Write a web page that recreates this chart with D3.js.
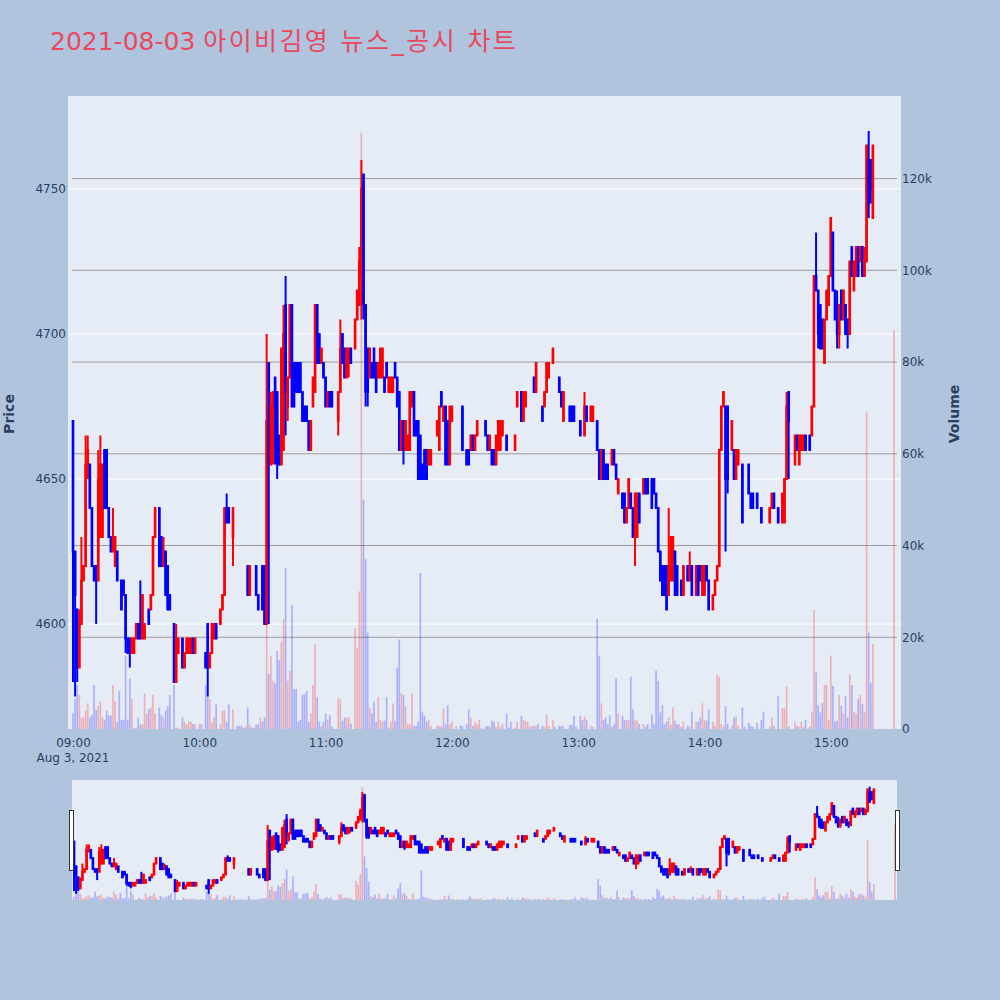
<!DOCTYPE html>
<html>
<head>
<meta charset="utf-8">
<title>아이비김영 뉴스_공시 차트</title>
<script src="https://cdn.jsdelivr.net/npm/d3@7"></script>
<style>
  body { margin: 0; background: #b0c4de; }
  text { font-family: "DejaVu Sans", "Noto Sans CJK KR", sans-serif; }
</style>
</head>
<body>
<svg id="chart" width="1000" height="1000"></svg>
<script>
// minute of the session, 0 = 09:00
const minutes = [
  0,1,2,3,4,5,6,7,8,9,
  10,11,12,13,14,15,16,17,18,19,
  20,21,22,23,24,25,26,27,28,29,
  30,31,32,33,34,35,36,37,38,39,
  41,42,43,44,45,46,48,49,50,52,
  53,54,55,56,57,58,60,61,63,64,
  65,66,67,68,70,71,72,73,74,76,
  78,79,80,81,82,83,84,85,86,87,
  88,89,90,91,92,93,94,95,96,97,
  98,99,100,101,102,103,104,105,106,107,
  108,109,110,111,112,113,114,115,116,117,
  118,119,120,121,122,123,126,127,128,129,
  130,131,132,134,135,136,137,138,139,140,
  141,142,143,144,145,146,147,148,149,150,
  151,152,153,154,155,156,157,158,159,160,
  161,162,163,164,165,166,167,168,169,170,
  173,174,175,176,177,178,179,180,182,184,
  185,187,188,189,190,191,192,193,194,196,
  197,198,199,200,201,202,203,204,206,207,
  208,210,211,213,214,215,216,217,218,219,
  220,221,223,224,225,226,228,229,231,232,
  233,236,237,238,239,241,242,243,244,246,
  247,249,250,251,252,253,254,255,256,257,
  258,259,261,262,263,264,265,266,267,268,
  269,271,272,273,275,276,277,278,279,280,
  281,282,283,284,285,286,287,288,289,290,
  292,293,294,296,297,298,299,300,301,302,
  304,305,306,307,308,309,310,311,313,314,
  315,316,318,319,321,322,323,325,327,328,
  331,332,333,335,337,338,339,340,343,344,
  345,346,347,348,350,351,352,353,354,355,
  356,357,358,359,360,361,362,363,364,365,
  366,367,368,369,370,371,372,373,374,375,
  376,377,378,379,380,390
];
const opens = [
  4670,4625,4605,4585,4600,4615,4620,4655,4655,4640,
  4620,4620,4615,4630,4630,4660,4660,4640,4630,4625,
  4620,4625,4615,4615,4615,4610,4595,4595,4590,4590,
  4595,4600,4600,4595,4595,4605,4605,4605,4610,4630,
  4640,4630,4620,4625,4620,4610,4600,4580,4590,4595,
  4585,4590,4590,4590,4595,4590,4595,4590,4590,4600,
  4585,4590,4595,4600,4600,4605,4610,4640,4640,4630,
  4625,4625,4625,4620,4625,4620,4610,4610,4610,4620,
  4610,4620,4620,4620,4600,4690,4655,4660,4685,4680,
  4665,4655,4660,4710,4675,4685,4710,4690,4690,4690,
  4690,4680,4675,4675,4670,4660,4675,4680,4710,4700,
  4690,4690,4685,4675,4680,4680,4670,4680,4700,4695,
  4685,4690,4695,4695,4705,4710,4720,4755,4710,4695,
  4685,4690,4695,4690,4685,4685,4685,4685,4690,4680,
  4680,4680,4690,4685,4680,4660,4670,4660,4660,4660,
  4675,4680,4670,4670,4665,4655,4660,4660,4655,4655,
  4665,4660,4680,4670,4675,4670,4655,4670,4675,4670,
  4675,4660,4660,4660,4665,4660,4665,4670,4670,4670,
  4665,4660,4660,4660,4655,4660,4660,4665,4665,4660,
  4660,4660,4675,4680,4670,4675,4685,4685,4685,4685,
  4680,4680,4675,4675,4680,4685,4690,4690,4685,4680,
  4670,4675,4675,4675,4670,4670,4665,4665,4675,4670,
  4670,4670,4660,4650,4660,4655,4655,4650,4655,4660,
  4655,4645,4645,4645,4635,4640,4645,4640,4630,4630,
  4645,4645,4650,4650,4650,4650,4645,4640,4625,4620,
  4620,4620,4610,4615,4615,4625,4620,4620,4615,4610,
  4620,4615,4620,4610,4620,4620,4610,4610,4620,4615,
  4605,4610,4615,4620,4660,4675,4675,4675,4660,4660,
  4650,4655,4655,4635,4655,4645,4645,4645,4640,4635,
  4635,4640,4645,4640,4635,4635,4650,4680,4655,4665,
  4655,4660,4660,4665,4665,4665,4675,4720,4715,4710,
  4705,4690,4705,4710,4720,4735,4715,4710,4700,4715,
  4705,4710,4705,4700,4730,4715,4720,4730,4725,4730,
  4720,4725,4760,4760,4740,4770
];
const highs = [
  4670,4625,4605,4605,4630,4620,4665,4665,4655,4640,
  4620,4620,4660,4665,4655,4660,4660,4640,4630,4640,
  4630,4625,4615,4615,4615,4610,4595,4595,4595,4595,
  4600,4600,4615,4610,4600,4605,4605,4610,4630,4640,
  4640,4630,4630,4625,4620,4610,4600,4600,4595,4595,
  4590,4595,4595,4595,4595,4595,4595,4590,4590,4600,
  4590,4600,4600,4600,4605,4610,4640,4645,4640,4640,
  4625,4625,4625,4620,4625,4620,4620,4610,4610,4620,
  4610,4620,4620,4620,4700,4690,4680,4680,4685,4680,
  4665,4695,4710,4720,4685,4710,4710,4690,4690,4690,
  4690,4680,4675,4675,4670,4670,4685,4710,4710,4700,
  4695,4690,4685,4680,4680,4680,4680,4705,4700,4695,
  4695,4695,4695,4705,4715,4730,4760,4755,4710,4695,
  4695,4690,4695,4690,4690,4695,4695,4685,4690,4685,
  4685,4685,4690,4685,4680,4670,4670,4670,4665,4680,
  4680,4680,4670,4670,4665,4655,4660,4660,4660,4660,
  4670,4675,4680,4675,4675,4670,4675,4675,4675,4670,
  4675,4660,4660,4665,4665,4665,4670,4670,4670,4670,
  4665,4665,4660,4660,4665,4670,4670,4670,4665,4660,
  4660,4665,4680,4680,4680,4680,4685,4685,4685,4685,
  4690,4680,4675,4680,4690,4690,4695,4690,4685,4680,
  4680,4675,4675,4675,4670,4670,4665,4680,4675,4675,
  4675,4670,4660,4660,4660,4655,4655,4650,4660,4660,
  4655,4650,4645,4645,4640,4650,4645,4640,4645,4645,
  4645,4650,4650,4650,4650,4650,4645,4640,4625,4620,
  4620,4620,4640,4630,4630,4625,4620,4620,4615,4620,
  4620,4625,4620,4620,4620,4620,4620,4620,4620,4615,
  4610,4615,4620,4660,4675,4680,4675,4675,4670,4660,
  4660,4660,4655,4635,4655,4645,4645,4645,4640,4635,
  4640,4645,4645,4640,4645,4650,4680,4680,4665,4665,
  4665,4665,4665,4665,4665,4675,4720,4735,4715,4710,
  4705,4705,4715,4720,4740,4735,4715,4715,4710,4715,
  4715,4710,4705,4725,4730,4725,4730,4730,4730,4730,
  4730,4765,4770,4760,4765,4770
];
const lows = [
  4580,4575,4580,4585,4600,4615,4620,4650,4640,4620,
  4615,4600,4615,4630,4630,4640,4640,4630,4625,4625,
  4620,4615,4615,4605,4610,4590,4590,4585,4590,4590,
  4595,4595,4595,4595,4595,4605,4600,4605,4610,4630,
  4620,4620,4620,4610,4605,4605,4580,4580,4590,4585,
  4585,4590,4590,4590,4590,4590,4595,4590,4585,4575,
  4585,4590,4595,4595,4600,4605,4610,4635,4635,4620,
  4625,4625,4625,4620,4625,4610,4610,4610,4610,4610,
  4605,4620,4605,4600,4600,4600,4655,4655,4655,4650,
  4655,4655,4660,4665,4670,4685,4675,4675,4680,4680,
  4680,4670,4670,4670,4660,4660,4675,4680,4690,4690,
  4690,4685,4675,4675,4675,4675,4665,4680,4690,4685,
  4685,4685,4690,4695,4705,4710,4705,4705,4675,4675,
  4685,4685,4685,4680,4685,4685,4685,4680,4685,4680,
  4680,4680,4685,4675,4660,4660,4655,4660,4660,4660,
  4675,4665,4665,4650,4650,4650,4650,4650,4655,4655,
  4665,4660,4675,4670,4655,4655,4655,4670,4675,4670,
  4660,4655,4655,4660,4660,4660,4665,4670,4670,4665,
  4660,4660,4655,4655,4655,4660,4660,4665,4660,4660,
  4660,4660,4675,4670,4670,4675,4685,4685,4685,4680,
  4680,4680,4670,4675,4680,4685,4690,4690,4680,4675,
  4670,4670,4670,4670,4670,4665,4665,4665,4670,4670,
  4670,4660,4650,4650,4650,4650,4650,4650,4655,4655,
  4650,4645,4640,4635,4635,4640,4640,4630,4620,4630,
  4635,4645,4645,4645,4640,4645,4640,4625,4615,4610,
  4610,4605,4610,4615,4615,4610,4610,4620,4610,4610,
  4615,4615,4610,4610,4610,4615,4610,4610,4615,4605,
  4605,4610,4615,4620,4660,4675,4625,4645,4660,4650,
  4650,4655,4635,4635,4645,4640,4640,4640,4635,4635,
  4635,4640,4640,4635,4635,4635,4650,4650,4655,4660,
  4655,4660,4660,4660,4660,4665,4675,4715,4695,4695,
  4695,4690,4705,4710,4720,4715,4705,4695,4695,4705,
  4705,4700,4695,4700,4720,4715,4720,4720,4725,4720,
  4720,4725,4740,4745,4740,4770
];
const closes = [
  4625,4610,4585,4600,4615,4620,4655,4660,4640,4620,
  4615,4615,4650,4655,4655,4640,4640,4630,4625,4630,
  4630,4615,4615,4605,4610,4595,4590,4590,4595,4595,
  4600,4595,4595,4610,4600,4605,4600,4610,4630,4640,
  4620,4620,4625,4610,4605,4605,4580,4595,4595,4585,
  4590,4595,4595,4595,4590,4595,4595,4590,4585,4585,
  4590,4600,4600,4595,4605,4610,4640,4635,4635,4640,
  4625,4625,4625,4620,4625,4610,4620,4610,4610,4610,
  4605,4620,4605,4600,4670,4655,4675,4680,4675,4655,
  4655,4695,4700,4680,4685,4710,4675,4675,4680,4680,
  4680,4670,4670,4670,4660,4670,4685,4710,4690,4690,
  4695,4685,4675,4680,4675,4675,4680,4695,4690,4685,
  4695,4695,4690,4705,4715,4725,4750,4710,4680,4680,
  4695,4685,4685,4680,4690,4695,4695,4680,4685,4685,
  4685,4685,4685,4675,4660,4670,4660,4670,4665,4680,
  4680,4665,4665,4650,4650,4650,4650,4650,4660,4660,
  4670,4675,4675,4675,4655,4655,4675,4675,4675,4670,
  4660,4655,4655,4665,4660,4665,4670,4670,4670,4665,
  4660,4665,4655,4655,4665,4670,4670,4670,4660,4660,
  4660,4665,4680,4670,4680,4680,4685,4685,4685,4680,
  4690,4680,4670,4680,4690,4690,4695,4690,4680,4675,
  4680,4670,4670,4670,4670,4665,4665,4675,4670,4675,
  4675,4660,4650,4660,4650,4650,4650,4650,4660,4655,
  4650,4650,4640,4635,4640,4650,4640,4630,4645,4645,
  4635,4650,4645,4645,4640,4645,4640,4625,4615,4610,
  4610,4605,4620,4630,4630,4610,4610,4620,4610,4620,
  4615,4620,4610,4620,4610,4615,4620,4620,4615,4605,
  4610,4615,4620,4660,4675,4680,4650,4650,4670,4650,
  4660,4660,4635,4635,4645,4640,4640,4640,4635,4635,
  4640,4645,4640,4635,4645,4650,4675,4670,4665,4660,
  4665,4665,4665,4660,4660,4675,4720,4715,4700,4695,
  4695,4705,4715,4720,4740,4715,4705,4700,4710,4705,
  4715,4700,4700,4725,4720,4725,4730,4720,4730,4720,
  4725,4765,4745,4750,4765,4770
];
const volumes = [
  3400,6500,9600,7400,2500,2500,4000,5600,2500,3000,
  9600,4200,5000,6000,2500,2000,4000,3000,3000,9600,
  6000,1500,8300,2000,2000,16000,2000,11000,6500,300,
  300,2500,1000,1000,7800,3400,4300,4700,7400,3400,
  4700,3000,2500,4000,5000,7400,9600,300,300,2500,
  1600,1100,1600,1600,1100,1100,1100,1100,9600,7000,
  6500,1500,2500,5400,1000,4000,4000,1500,5400,4300,
  700,700,700,300,500,4700,1000,300,300,1000,
  1000,2500,1600,2500,23000,12000,16000,10500,10000,17000,
  15000,19000,24000,35000,10500,12700,27000,8700,8700,1600,
  2000,7400,7600,8300,1600,3400,9600,18500,7000,1600,
  700,1600,3400,2000,3000,500,6800,6500,1800,2500,
  2500,2500,1200,22000,17700,30000,130000,50000,37000,21000,
  4500,3400,6000,1600,7000,2000,1600,1800,7000,300,
  1600,5600,1800,13400,19500,7800,7400,5000,1200,1000,
  7800,700,700,1600,34000,3800,2900,1600,2000,700,
  700,700,500,4500,1000,5200,1000,1600,700,700,
  700,1100,4300,2500,700,1600,1000,2000,300,500,
  700,500,1800,1600,500,1600,500,1100,3400,300,
  1600,300,1600,2900,2000,1600,1600,500,700,700,
  700,1100,700,500,3200,700,2000,500,700,700,
  700,900,900,2900,500,2900,2000,2700,2000,700,
  500,24000,16000,5600,2000,2500,1000,3000,500,1100,
  11000,3400,2900,2000,2000,2000,11400,4300,2000,1800,
  1100,1100,500,1100,3200,1100,12700,10500,3600,5200,
  1000,1600,2500,1000,4700,1800,1000,1100,500,1600,
  700,500,3800,1600,1600,2500,5600,2000,1800,4300,
  1600,700,11900,11400,1100,500,5000,1100,700,2500,
  2700,700,4700,500,1400,700,500,1400,2000,3800,
  500,2500,700,7100,4500,4500,9200,500,1600,700,
  500,1600,500,2000,500,3800,26000,12300,5200,3600,
  5600,9600,9600,2000,16000,9400,1600,1800,7400,5000,
  3400,7100,2500,12000,9600,3800,3400,6500,7400,5400,
  3800,69000,21000,10000,18500,87000
];
const priceTicks = [4600, 4650, 4700, 4750];
const volumeTicks = [20000, 40000, 60000, 80000, 100000, 120000];
const hourTicks = ['09:00', '10:00', '11:00', '12:00', '13:00', '14:00', '15:00'];

const UP = '#ff0000', DOWN = '#0000ff';
const svg = d3.select('#chart');
const t0 = new Date(2021, 7, 3, 9, 0).getTime();
const at = m => new Date(t0 + m * 60000);
const parseHour = s => at((+s.slice(0, 2) - 9) * 60 + +s.slice(3));

// candle rows, direction follows plotly's rule for flat candles
const rows = [];
minutes.forEach((m, i) => {
  const o = opens[i], c = closes[i];
  let up;
  if (c > o) up = true;
  else if (c < o) up = false;
  else if (i > 0 && c > closes[i - 1]) up = true;
  else if (i > 0 && c < closes[i - 1]) up = false;
  else up = i > 0 ? rows[i - 1].up : true;
  rows.push({ t: at(m), o, h: highs[i], l: lows[i], c, v: volumes[i], up });
});

// main plot
const P = { left: 68, right: 901, top: 96, bottom: 729 };
const x = d3.scaleTime().domain([at(-2.375), at(393.35)]).range([P.left, P.right]);
const y = d3.scaleLinear().domain([4563.8, 4782.07]).range([P.bottom, P.top]);
const yv = d3.scaleLinear().domain([0, 138000]).range([P.bottom, P.top]);

svg.append('rect').attr('x', P.left).attr('y', P.top)
  .attr('width', P.right - P.left).attr('height', P.bottom - P.top).attr('fill', '#e5ecf6');

// gridlines
svg.append('g').selectAll('line').data(priceTicks).join('line')
  .attr('x1', P.left).attr('x2', P.right)
  .attr('y1', d => y(d)).attr('y2', d => y(d))
  .attr('stroke', '#fff').attr('stroke-width', 1);
svg.append('g').selectAll('line').data(volumeTicks).join('line')
  .attr('x1', 72).attr('x2', 897)
  .attr('y1', d => yv(d)).attr('y2', d => yv(d))
  .attr('stroke', '#9c9c9c').attr('stroke-width', 1);

function drawMarks(g, xs, yp, yvol) {
  const step = xs(at(1)) - xs(at(0));
  const candles = g.append('g').selectAll('g').data(rows).join('g')
    .attr('stroke', d => d.up ? UP : DOWN).attr('fill', d => d.up ? UP : DOWN);
  candles.append('line')
    .attr('x1', d => xs(d.t)).attr('x2', d => xs(d.t))
    .attr('y1', d => yp(d.h)).attr('y2', d => yp(d.l))
    .attr('stroke-width', 2);
  candles.append('rect')
    .attr('x', d => xs(d.t) - step * 0.15).attr('width', step * 0.3)
    .attr('y', d => yp(Math.max(d.o, d.c)))
    .attr('height', d => Math.abs(yp(d.o) - yp(d.c)))
    .attr('stroke-width', 2);
  g.append('g').selectAll('rect').data(rows).join('rect')
    .attr('x', d => xs(d.t) - step * 0.4).attr('width', step * 0.8)
    .attr('y', d => yvol(d.v)).attr('height', d => yvol(0) - yvol(d.v))
    .attr('fill', d => d.up ? UP : DOWN).attr('fill-opacity', 0.25);
}

svg.append('clipPath').attr('id', 'mainClip').append('rect')
  .attr('x', P.left).attr('y', P.top).attr('width', P.right - P.left).attr('height', P.bottom - P.top);
drawMarks(svg.append('g').attr('clip-path', 'url(#mainClip)'), x, y, yv);

// axes
const axisColor = '#2a3f5f';
function styleAxis(g) {
  g.select('.domain').remove();
  g.attr('font-family', '"DejaVu Sans", sans-serif').attr('font-size', 12);
  g.selectAll('text').attr('fill', axisColor);
}
svg.append('g').attr('transform', `translate(${P.left},0)`)
  .call(d3.axisLeft(y).tickValues(priceTicks).tickFormat(d3.format('d')).tickSize(0).tickPadding(2))
  .call(styleAxis);
svg.append('g').attr('transform', `translate(${P.right},0)`)
  .call(d3.axisRight(yv).tickValues([0, ...volumeTicks]).tickFormat(d3.format('~s')).tickSize(0).tickPadding(1))
  .call(styleAxis);
svg.append('g').attr('transform', `translate(0,${P.bottom})`)
  .call(d3.axisBottom(x).tickValues(hourTicks.map(parseHour)).tickFormat(d3.timeFormat('%H:%M')).tickSize(0).tickPadding(9))
  .call(styleAxis);
svg.append('text').attr('x', x(parseHour('09:00'))).attr('y', 762)
  .attr('text-anchor', 'middle').attr('font-size', 12).attr('fill', axisColor)
  .text('Aug 3, 2021');

// axis titles
svg.append('text').attr('transform', 'translate(14,414) rotate(-90)')
  .attr('text-anchor', 'middle').attr('font-size', 14).attr('font-weight', 'bold')
  .attr('fill', axisColor).text('Price');
svg.append('text').attr('transform', 'translate(959,414) rotate(-90)')
  .attr('text-anchor', 'middle').attr('font-size', 14).attr('font-weight', 'bold')
  .attr('fill', axisColor).text('Volume');

// title: the hangul part sets a little wider in the reference font
const title = svg.append('text').attr('x', 50).attr('y', 49.5)
  .attr('font-size', 25).attr('fill', '#e9485e');
title.append('tspan').text('2021-08-03 ');
title.append('tspan').attr('letter-spacing', 2.4).text('아이비김영 뉴스_공시 차트');

// range slider
const S = { left: 72, right: 897, top: 780, bottom: 900 };
const xs2 = x.copy().range([P.left + 1, P.right + 1]);
const ys2 = y.copy().range([S.bottom, S.top]);
const yv2 = yv.copy().range([S.bottom, S.top]);
svg.append('rect').attr('x', S.left).attr('y', S.top)
  .attr('width', S.right - S.left).attr('height', S.bottom - S.top).attr('fill', '#e5ecf6');
svg.append('clipPath').attr('id', 'sliderClip').append('rect')
  .attr('x', S.left).attr('y', S.top).attr('width', S.right - S.left).attr('height', S.bottom - S.top);
drawMarks(svg.append('g').attr('clip-path', 'url(#sliderClip)'), xs2, ys2, yv2);
[S.left - 2.5, S.right - 1.5].forEach(hx => {
  svg.append('rect').attr('x', hx).attr('y', 810.5).attr('width', 4).attr('height', 60)
    .attr('fill', '#fff').attr('stroke', '#333').attr('stroke-width', 1);
});
</script>
</body>
</html>
